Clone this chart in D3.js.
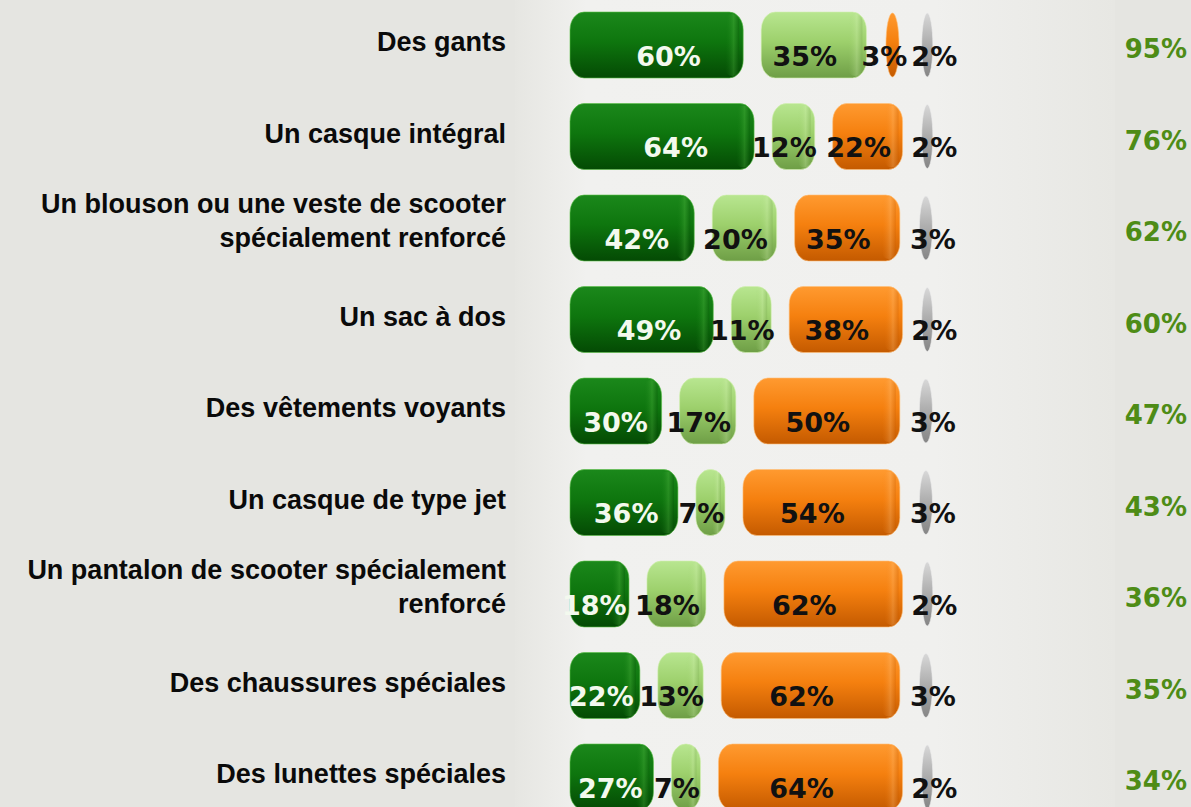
<!DOCTYPE html>
<html><head><meta charset="utf-8">
<script src="https://cdn.jsdelivr.net/npm/d3@7"></script>
<style>html,body{margin:0;padding:0;background:#e5e5e1;}svg{display:block}</style>
</head><body>
<script>
// ---- data ----
const categories = [
  "Des gants",
  "Un casque intégral",
  "Un blouson ou une veste de scooter\nspécialement renforcé",
  "Un sac à dos",
  "Des vêtements voyants",
  "Un casque de type jet",
  "Un pantalon de scooter spécialement\nrenforcé",
  "Des chaussures spéciales",
  "Des lunettes spéciales"
];
const seriesDarkGreen  = [60, 64, 42, 49, 30, 36, 18, 22, 27];
const seriesLightGreen = [35, 12, 20, 11, 17, 7, 18, 13, 7];
const seriesOrange     = [3, 22, 35, 38, 50, 54, 62, 62, 64];
const seriesGray       = [2, 2, 3, 2, 3, 3, 2, 3, 2];
const totals           = [95, 76, 62, 60, 47, 43, 36, 35, 34];

const series = [seriesDarkGreen, seriesLightGreen, seriesOrange, seriesGray];
const seriesColors = [
  ["#1b881b", "#0e760e", "#044a04", "#5cbf48"],
  ["#b8e690", "#9dd06c", "#6e9e46", "#d2f0b0"],
  ["#ff9a30", "#f5800f", "#c45a00", "#ffc07a"],
  ["#d8d8d8", "#b0b0b0", "#858585", "#eeeeee"]
];
const labelColors = ["#f3f9ee", "#111", "#111", "#111"];

// ---- layout ----
const W = 1191, H = 807;
const svg = d3.select("body").append("svg").attr("width", W).attr("height", H);
const defs = svg.append("defs");

const bg = defs.append("linearGradient").attr("id", "bgpanel").attr("x1", 0).attr("x2", 1).attr("y1", 0).attr("y2", 0);
bg.append("stop").attr("offset", 0).attr("stop-color", "#e6e6e2");
bg.append("stop").attr("offset", 0.12).attr("stop-color", "#f1f1ef");
bg.append("stop").attr("offset", 0.7).attr("stop-color", "#f0f0ee");
bg.append("stop").attr("offset", 1).attr("stop-color", "#e7e7e3");
svg.append("rect").attr("width", W).attr("height", H).attr("fill", "#e5e5e1");
svg.append("rect").attr("x", 515).attr("y", 0).attr("width", 600).attr("height", H).attr("fill", "url(#bgpanel)");

seriesColors.forEach((c, k) => {
  const g = defs.append("linearGradient").attr("id", "grad" + k).attr("x1", 0).attr("x2", 0).attr("y1", 0).attr("y2", 1);
  g.append("stop").attr("offset", 0).attr("stop-color", c[0]);
  g.append("stop").attr("offset", 0.45).attr("stop-color", c[1]);
  g.append("stop").attr("offset", 1).attr("stop-color", c[2]);
  const gc = defs.append("linearGradient").attr("id", "cap" + k).attr("x1", 0).attr("x2", 1).attr("y1", 0).attr("y2", 0);
  gc.append("stop").attr("offset", 0).attr("stop-color", c[1]).attr("stop-opacity", 0);
  gc.append("stop").attr("offset", 0.6).attr("stop-color", c[3]).attr("stop-opacity", 0.3);
  gc.append("stop").attr("offset", 1).attr("stop-color", c[2]).attr("stop-opacity", 0.3);
});

const y = d3.scalePoint().domain(categories).range([45, 777]);
const x = d3.scaleLinear().domain([0, 100]).range([0, 272]);
const barH = 66, x0 = 570, gap = 18, capW = 10;

const rows = svg.append("g").selectAll("g").data(categories).join("g")
  .attr("transform", d => `translate(0,${y(d)})`);

rows.each(function (cat, i) {
  const g = d3.select(this);
  // category label
  const lines = cat.split("\n");
  const t = g.append("text")
    .attr("text-anchor", "end")
    .attr("font-family", "'Liberation Sans', Arial, sans-serif")
    .attr("font-weight", "bold").attr("font-size", 27)
    .attr("fill", "#0a0a0a");
  if (lines.length === 1) {
    t.append("tspan").attr("x", 506).attr("y", -3).attr("dominant-baseline", "central").text(lines[0]);
  } else {
    lines.forEach((l, j) => {
      t.append("tspan").attr("x", 506).attr("y", -7 + (j - 0.5) * 34).attr("dominant-baseline", "central").text(l);
    });
  }

  // bars
  let cur = x0;
  series.forEach((s, k) => {
    const v = s[i];
    const w = capW + x(v);
    if (v < 5) {
      g.append("ellipse").attr("cx", cur + w / 2 - 1).attr("cy", 0)
        .attr("rx", Math.max(5.5, w * 0.36)).attr("ry", barH / 2 - 1)
        .attr("fill", `url(#grad${k})`).attr("stroke", seriesColors[k][3]).attr("stroke-opacity", 0.6);
    } else {
      g.append("rect").attr("x", cur).attr("y", -barH / 2).attr("width", w).attr("height", barH)
        .attr("rx", Math.min(14, w / 2)).attr("ry", Math.min(18, barH / 2))
        .attr("fill", `url(#grad${k})`).attr("stroke", seriesColors[k][3]).attr("stroke-opacity", 0.6);
      const cw = Math.min(14, w * 0.3);
      g.append("rect").attr("x", cur + w - cw - 4).attr("y", -barH / 2 + 2).attr("width", cw).attr("height", barH - 4)
        .attr("rx", cw / 2).attr("fill", `url(#cap${k})`);
    }
    let lx;
    if (k === 0) lx = cur + 0.65 * w - 14;
    else if (k === 3) lx = cur + w / 2 + 6;
    else lx = cur + w / 2 - 9;
    g.append("text").attr("x", lx).attr("y", 11)
      .attr("text-anchor", "middle").attr("dominant-baseline", "central")
      .attr("font-family", "'DejaVu Sans', Verdana, sans-serif")
      .attr("font-weight", "bold").attr("font-size", 27)
      .attr("fill", labelColors[k]).text(v + "%");
    cur += w + gap;
  });

  // totals
  g.append("text").attr("x", 1187).attr("y", 4)
    .attr("text-anchor", "end").attr("dominant-baseline", "central")
    .attr("font-family", "'DejaVu Sans', Verdana, sans-serif")
    .attr("font-weight", "bold").attr("font-size", 26)
    .attr("fill", "#4e8c16").text(totals[i] + "%");
});
</script>
</body></html>
